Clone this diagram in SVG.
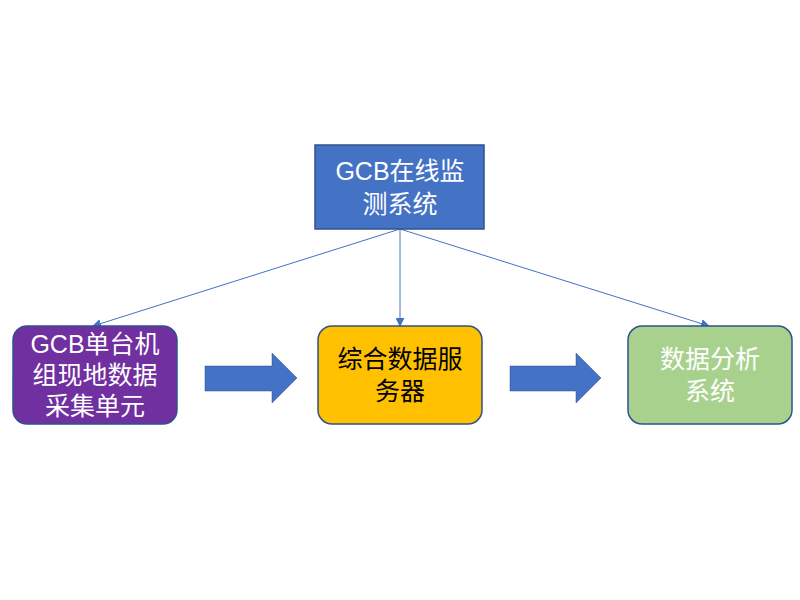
<svg xmlns="http://www.w3.org/2000/svg" width="800" height="600" viewBox="0 0 800 600">
<defs>
<style>
.t{font-family:"Liberation Sans","Noto Sans CJK SC",sans-serif;font-size:25px;text-anchor:middle;dominant-baseline:central}
.w{fill:#fff}
.k{fill:#000}
.c{stroke:#4472C4;stroke-width:1;fill:none;marker-end:url(#ah)}
.ba{fill:#4472C4;stroke:#2F528F;stroke-width:0.5}
</style>
<marker id="ah" viewBox="0 0 10 10" refX="9" refY="5" markerWidth="9" markerHeight="9" markerUnits="userSpaceOnUse" orient="auto">
<path d="M0,0 L10,5 L0,10 z" fill="#4472C4"/>
</marker>
</defs>
<rect width="800" height="600" fill="#fff"/>
<g id="connectors">
<line class="c" x1="400" y1="229" x2="93" y2="326"/>
<line class="c" x1="400" y1="229" x2="400" y2="326"/>
<line class="c" x1="400" y1="229" x2="709" y2="326"/>
<path class="ba" d="M205,366 H272 V353 L297,378 L272,403 V391 H205 Z"/>
<path class="ba" d="M510,366 H576 V353 L601,378 L576,403 V391 H510 Z"/>
</g>
<g id="top">
<rect x="315" y="145" width="169" height="84" fill="#4472C4" stroke="#2F528F" stroke-width="1.5"/>
<text class="t w" x="400" y="171">GCB在线监</text>
<text class="t w" x="400" y="204">测系统</text>
</g>
<g id="left">
<rect x="13" y="326" width="164" height="98" rx="14" fill="#7030A0" stroke="#2F528F" stroke-width="1.5"/>
<text class="t w" x="95" y="344">GCB单台机</text>
<text class="t w" x="95" y="375">组现地数据</text>
<text class="t w" x="95" y="406">采集单元</text>
</g>
<g id="middle">
<rect x="318" y="326" width="164" height="98" rx="14" fill="#FFC000" stroke="#2F528F" stroke-width="1.5"/>
<text class="t k" x="400" y="359">综合数据服</text>
<text class="t k" x="400" y="391">务器</text>
</g>
<g id="right">
<rect x="628" y="326" width="164" height="98" rx="14" fill="#A9D18E" stroke="#2F528F" stroke-width="1.5"/>
<text class="t w" x="710" y="359">数据分析</text>
<text class="t w" x="710" y="391">系统</text>
</g>
</svg>
